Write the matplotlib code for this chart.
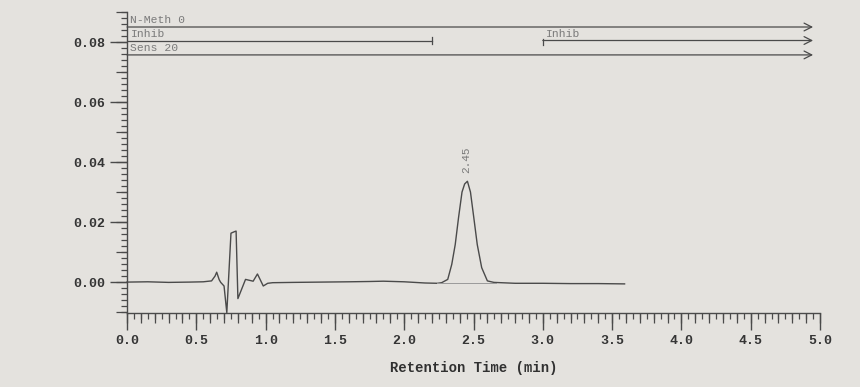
import matplotlib
matplotlib.use("Agg")
import matplotlib.pyplot as plt
from matplotlib.ticker import MultipleLocator, FixedLocator

# ---- data ----
trace_t = [0.00, 0.15, 0.30, 0.45, 0.55, 0.61, 0.635, 0.647, 0.665, 0.676, 0.700,
           0.720, 0.750, 0.775, 0.787, 0.800, 0.855, 0.910, 0.941, 0.983, 1.015,
           1.051, 1.20, 1.40, 1.60, 1.75, 1.85, 2.00, 2.15, 2.24, 2.27, 2.314,
           2.343, 2.368, 2.392, 2.417, 2.436, 2.456, 2.478, 2.502, 2.527, 2.559,
           2.600, 2.647, 2.80, 3.00, 3.20, 3.40, 3.59]
trace_v = [0.0000, 0.0001, -0.0001, 0.0000, 0.0001, 0.0004, 0.0020, 0.0033, 0.0008,
           -0.0001, -0.0013, -0.0102, 0.0163, 0.0168, 0.0170, -0.0055, 0.0009, 0.0003,
           0.0027, -0.0013, -0.0004, -0.0002, -0.0001, 0.0000, 0.0001, 0.0002,
           0.0003, 0.0001, -0.0003, -0.0004, -0.0002, 0.0009,
           0.0059, 0.0125, 0.0215, 0.0300, 0.0327, 0.0336, 0.0300, 0.0215, 0.0125,
           0.0048, 0.0004, -0.0001, -0.0004, -0.0004, -0.0005, -0.0005, -0.0006]

peak_time = 2.45
peak_label = "2.45"
peak_base_start = 2.24
peak_base_end = 2.66

events = ["N-Meth 0", "Inhib", "Sens 20"]
event_levels = [0.0850, 0.0805, 0.0757]
inhib2_start = 3.0
inhib1_end = 2.2
arrow_end = 4.95

x_ticks = [0.0, 0.5, 1.0, 1.5, 2.0, 2.5, 3.0, 3.5, 4.0, 4.5, 5.0]
y_ticks = [0.00, 0.02, 0.04, 0.06, 0.08]
x_label = "Retention Time (min)"

# ---- style ----
bg = "#e4e2de"
ink = "#4a4a4a"
grey_txt = "#7a7a7a"
mono = ["Liberation Mono", "DejaVu Sans Mono"]

fig = plt.figure(figsize=(8.6, 3.87), dpi=100, facecolor=bg)
ax = fig.add_axes([0.1477, 0.1912, 0.8058, 0.7778], facecolor=bg)
ax.set_xlim(0, 5.0)
ax.set_ylim(-0.0103, 0.090)

for s in ("top", "right"):
    ax.spines[s].set_visible(False)
for s in ("left", "bottom"):
    ax.spines[s].set_color(ink)
    ax.spines[s].set_linewidth(1.0)

ax.plot(trace_t, trace_v, color=ink, lw=1.0, clip_on=False)

# baseline drawn under the peak
ax.plot([peak_base_start, peak_base_end], [-0.0003, -0.0003], color="#9a9a9a", lw=0.7)
ax.annotate(peak_label, (peak_time, 0.0362), rotation=90, ha="center", va="bottom",
            fontsize=8, color=grey_txt, family=mono)

# event lines
arrow_kw = dict(arrowstyle="->,head_length=0.55,head_width=0.28", color=ink, lw=0.9,
                shrinkA=0, shrinkB=0)
ax.annotate("", xy=(arrow_end, event_levels[0]), xytext=(0, event_levels[0]),
            arrowprops=arrow_kw, annotation_clip=False)
ax.plot([0, inhib1_end], [event_levels[1]] * 2, color=ink, lw=0.9)
ax.plot([inhib1_end] * 2, [event_levels[1] - 0.0013, event_levels[1] + 0.0013], color=ink, lw=0.9)
ax.plot([inhib2_start] * 2, [event_levels[1] - 0.0016, event_levels[1] + 0.0004], color=ink, lw=0.9)
ax.annotate("", xy=(arrow_end, event_levels[1]), xytext=(inhib2_start, event_levels[1]),
            arrowprops=arrow_kw, annotation_clip=False)
ax.annotate("", xy=(arrow_end, event_levels[2]), xytext=(0, event_levels[2]),
            arrowprops=arrow_kw, annotation_clip=False)

for name, lvl in zip(events, event_levels):
    ax.text(0.025, lvl + 0.0013, name, fontsize=8.2, color=grey_txt, family=mono,
            ha="left", va="baseline")
ax.text(inhib2_start + 0.02, event_levels[1] + 0.0013, events[1], fontsize=8.2,
        color=grey_txt, family=mono, ha="left", va="baseline")

# ticks
ax.xaxis.set_major_locator(FixedLocator(x_ticks))
ax.xaxis.set_minor_locator(MultipleLocator(0.05))
ax.yaxis.set_major_locator(FixedLocator(y_ticks))
ax.yaxis.set_minor_locator(MultipleLocator(0.002))
ax.set_xticklabels([f"{v:.1f}" for v in x_ticks])
ax.set_yticklabels([f"{v:.2f}" for v in y_ticks])
ax.tick_params(axis="both", which="major", length=12, width=1.0, color=ink,
               labelsize=9.5, labelcolor="#353535", pad=4)
ax.tick_params(axis="both", which="minor", length=4, width=0.9, color=ink)
for lab in ax.get_xticklabels() + ax.get_yticklabels():
    lab.set_family(mono)
    lab.set_fontweight("bold")

secx = ax.secondary_xaxis("bottom")
secx.xaxis.set_major_locator(MultipleLocator(0.1))
secx.tick_params(length=7, width=0.9, color=ink, labelbottom=False)
secx.spines["bottom"].set_visible(False)
secy = ax.secondary_yaxis("left")
secy.yaxis.set_major_locator(MultipleLocator(0.01))
secy.tick_params(length=8, width=0.9, color=ink, labelleft=False)
secy.spines["left"].set_visible(False)

ax.set_xlabel(x_label, family=mono, fontweight="bold", fontsize=10, color="#303030",
              labelpad=10)

fig.savefig("out.png", dpi=100, facecolor=bg)
